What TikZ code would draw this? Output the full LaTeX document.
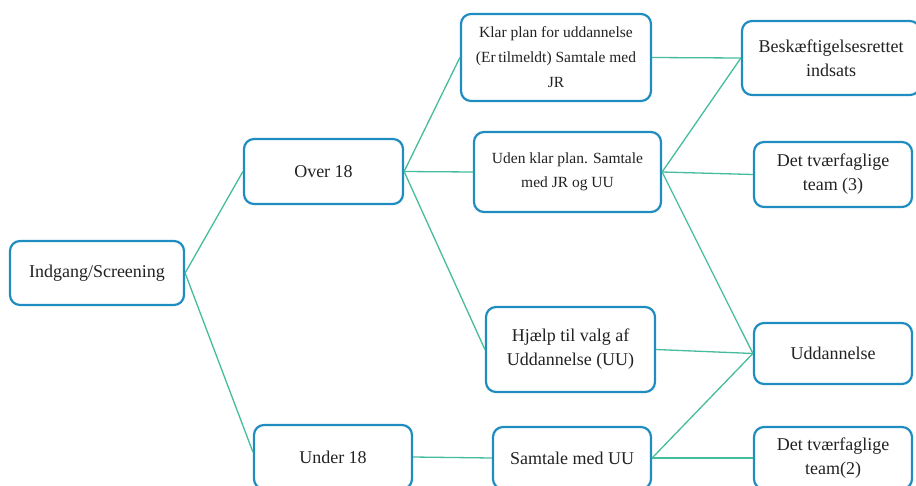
\documentclass[tikz,border=0pt]{standalone}
\usepackage{fontspec}
\setmainfont{Liberation Serif}
\definecolor{boxblue}{HTML}{1F8DC0}
\definecolor{lineteal}{HTML}{45BC9C}
\definecolor{txt}{HTML}{222222}
\begin{document}
\begin{tikzpicture}[x=1pt,y=-1pt,
  box/.style={draw=boxblue, line width=2.2pt, rounded corners=10pt, fill=white, text=txt,
    align=center, inner sep=0pt, font=\fontsize{18}{24}\selectfont},
  smalltext/.style={font=\fontsize{15.5}{25}\selectfont},
  conn/.style={draw=lineteal, line width=1.3pt}]
\useasboundingbox (0,0) rectangle (916,485);
\clip (0,0) rectangle (916,485);

\node[box, minimum width=174pt, minimum height=64pt] (ind) at (97,273) {Indgang/Screening};
\node[box, minimum width=159pt, minimum height=65pt] (o18) at (323.5,171.5) {Over 18};
\node[box, minimum width=158pt, minimum height=64pt] (u18) at (333,457) {Under 18};
\node[box, smalltext, minimum width=190pt, minimum height=87pt] (klar) at (556,57.5) {Klar plan for uddannelse\\(Er\,tilmeldt) Samtale med\\JR};
\node[box, smalltext, font=\fontsize{15.5}{24}\selectfont, minimum width=187pt, minimum height=80pt] (uden) at (567.5,172) {Uden klar plan. Samtale\\med JR og UU};
\node[box, minimum width=169pt, minimum height=85pt] (hj) at (570.5,349.5) {Hjælp til valg af\\Uddannelse (UU)};
\node[box, minimum width=158pt, minimum height=62pt] (sam) at (572,458) {Samtale med UU};
\node[box, minimum width=178pt, minimum height=74pt] (besk) at (831,58) {Beskæftigelsesrettet\\indsats};
\node[box, minimum width=158pt, minimum height=65pt] (t3) at (833,174.5) {Det tværfaglige\\team (3)};
\node[box, minimum width=158pt, minimum height=61pt] (udd) at (833,353.5) {Uddannelse};
\node[box, minimum width=158pt, minimum height=62pt] (t2) at (833,458) {Det tværfaglige\\team(2)};

\draw[conn] (ind.east) -- (o18.west);
\draw[conn] (ind.east) -- ([yshift=5pt]u18.west);
\draw[conn] (o18.east) -- (klar.west);
\draw[conn] (o18.east) -- (uden.west);
\draw[conn] (o18.east) -- (hj.west);
\draw[conn] (u18.east) -- (sam.west);
\draw[conn] (klar.east) -- (besk.west);
\draw[conn] (uden.east) -- (besk.west);
\draw[conn] (uden.east) -- (t3.west);
\draw[conn] (uden.east) -- (udd.west);
\draw[conn] (hj.east) -- (udd.west);
\draw[conn] (sam.east) -- (udd.west);
\draw[conn] (sam.east) -- (t2.west);
\end{tikzpicture}
\end{document}
